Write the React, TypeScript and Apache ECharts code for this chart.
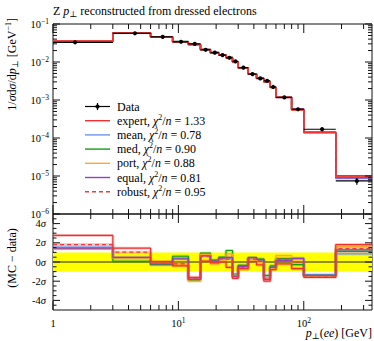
import React, { useEffect, useRef } from 'react';
import * as echarts from 'echarts';

// ---------- data ----------
const binEdges = [0, 3, 6, 9, 12, 15, 18, 21, 24, 27, 30, 36, 42, 48, 54, 60, 80, 100, 180, 350];
const dataValues = [0.033, 0.057, 0.046, 0.034, 0.030, 0.021, 0.0176, 0.0152, 0.0129, 0.0104, 0.0071, 0.0048, 0.0037, 0.0032, 0.0022, 0.00117, 0.00057, 0.00017, 0.0000074];
const dataRelErr = [0.03, 0.02, 0.02, 0.02, 0.02, 0.02, 0.02, 0.02, 0.02, 0.02, 0.02, 0.025, 0.025, 0.03, 0.03, 0.035, 0.05, 0.12, 0.2];

const seriesNames = ['expert', 'mean', 'med', 'port', 'equal', 'robust'];
const chi2Values = ['1.33', '0.78', '0.90', '0.88', '0.81', '0.95'];
const seriesColors = ['#f03030', '#6f94ee', '#12a012', '#ffa726', '#9a3cc0', '#f03a3a'];

const ratioExpert = [2.77, 1.44, 0.03, -0.4, -1.6, 0.1, -0.1, 0.0, -0.55, -1.7, -0.7, 0.05, -0.3, -2.0, -0.8, -0.2, -0.7, -1.6, 1.82];
const ratioMean = [1.55, 0.4, -0.3, 0.4, -1.85, 0.7, 0.05, 0.35, 0.4, -1.45, -0.45, 0.4, 0.2, -1.6, -0.5, 0.25, 0.42, -1.3, 0.84];
const ratioMed = [1.4, 0.07, -0.25, 0.6, -1.9, 0.92, 0.2, 0.5, 1.2, -1.25, -0.35, 0.45, 0.3, -1.4, -0.4, 0.35, -0.28, -1.4, 1.26];
const ratioPort = [1.37, 0.4, -0.15, -0.2, -2.0, 0.8, -0.2, 0.2, 0.84, -1.6, -0.8, 0.3, -0.05, -1.65, -0.7, 0.67, -0.66, -1.45, 1.61];
const ratioEqual = [1.44, 0.49, -0.2, 0.32, -1.8, 0.65, 0.1, 0.4, 0.49, -1.5, -0.45, 0.45, 0.25, -1.8, -0.55, 0.14, 0.35, -1.4, 1.1];
const ratioRobust = [1.82, 1.02, 0.0, -0.2, -1.75, 0.6, 0.0, 0.3, 0.3, -1.55, -0.6, 0.3, 0.1, -1.7, -0.6, 0.3, 0.0, -1.45, 1.4];
const ratios = [ratioExpert, ratioMean, ratioMed, ratioPort, ratioEqual, ratioRobust];

const X_MIN = 1;
const X_MAX = 350;
const Y_MIN = 1e-6;
const Y_MAX = 0.1;
const R_MIN = -5;
const R_MAX = 5;
const ratioMajorTicks = [-4, -2, 0, 2, 4];
const bandHalfWidth = 1;

const FONT = "'Liberation Serif', 'DejaVu Serif', serif";

// ---------- helpers ----------
function stepPoints(vals: number[]) {
  const pts = vals.map((v, i) => [Math.max(binEdges[i], X_MIN), v]);
  pts.push([binEdges[binEdges.length - 1], vals[vals.length - 1]]);
  return pts;
}

function logMinors(lo: number, hi: number) {
  const out: number[] = [];
  for (let d = Math.floor(Math.log10(lo)); d <= Math.ceil(Math.log10(hi)); d++) {
    for (let k = 2; k <= 9; k++) {
      const v = k * Math.pow(10, d);
      if (v > lo && v < hi) out.push(v);
    }
  }
  return out;
}
function logMajors(lo: number, hi: number) {
  const out: number[] = [];
  for (let d = Math.ceil(Math.log10(lo) - 1e-9); d <= Math.floor(Math.log10(hi) + 1e-9); d++) out.push(Math.pow(10, d));
  return out;
}

const xMaj = logMajors(X_MIN, X_MAX);
const xMin = logMinors(X_MIN, X_MAX);
const yMaj = logMajors(Y_MIN, Y_MAX);
const yMin = logMinors(Y_MIN, Y_MAX);
const rMin: number[] = [];
for (let v = R_MIN + 0.5; v < R_MAX; v += 0.5) if (ratioMajorTicks.indexOf(v) < 0) rMin.push(v);

function tickSeries(gi: number, xr: number[], yr: number[], xa: number[], xb: number[], ya: number[], yb: number[], xl: number[], yl: number[]) {
  return {
    type: 'custom',
    xAxisIndex: gi,
    yAxisIndex: gi,
    silent: true,
    z: 20,
    data: [[xr[0], yr[0]]],
    renderItem: (_p: any, api: any) => {
      const ch: any[] = [];
      const st = { stroke: '#111', lineWidth: 1 };
      const addX = (v: number, len: number) => {
        const b = api.coord([v, yr[0]]);
        const t = api.coord([v, yr[1]]);
        ch.push({ type: 'line', shape: { x1: b[0], y1: b[1], x2: b[0], y2: b[1] - len }, style: st });
        ch.push({ type: 'line', shape: { x1: t[0], y1: t[1], x2: t[0], y2: t[1] + len }, style: st });
      };
      const addY = (v: number, len: number) => {
        const l = api.coord([xr[0], v]);
        const r = api.coord([xr[1], v]);
        ch.push({ type: 'line', shape: { x1: l[0], y1: l[1], x2: l[0] + len, y2: l[1] }, style: st });
        ch.push({ type: 'line', shape: { x1: r[0], y1: r[1], x2: r[0] - len, y2: r[1] }, style: st });
      };
      xa.forEach((v) => addX(v, xl[0]));
      xb.forEach((v) => addX(v, xl[1]));
      ya.forEach((v) => addY(v, yl[0]));
      yb.forEach((v) => addY(v, yl[1]));
      return { type: 'group', children: ch };
    },
  };
}

const richBase = {
  b: { fontSize: 10.5, fontFamily: FONT, color: '#000', lineHeight: 14 },
  sup: { fontSize: 7.5, fontFamily: FONT, color: '#000', lineHeight: 6, verticalAlign: 'top' },
  sub: { fontSize: 8, fontFamily: FONT, color: '#000', lineHeight: 6, verticalAlign: 'bottom' },
  i: { fontSize: 10.5, fontFamily: FONT, color: '#000', fontStyle: 'italic', lineHeight: 14 },
};

function decadeLabel(v: number) {
  const e = Math.log10(v);
  const r = Math.round(e);
  if (Math.abs(e - r) > 1e-6) return '';
  if (r === 0) return '{b|1}';
  return `{b|10}{sup|${r < 0 ? '\u2212' : ''}${Math.abs(r)}}`;
}

function buildOption() {
  const mcSeries: any[] = [];
  const order = [1, 2, 3, 4, 0, 5];
  order.forEach((si) => {
    const mc = dataValues.map((d, i) => d * (1 + ratios[si][i] * dataRelErr[i]));
    mcSeries.push({
      type: 'line',
      name: seriesNames[si],
      xAxisIndex: 0,
      yAxisIndex: 0,
      step: 'end',
      symbol: 'none',
      silent: true,
      data: stepPoints(mc),
      lineStyle: { color: seriesColors[si], width: 1.6, type: si === 5 ? [4, 3] : 'solid' },
      z: 3,
    });
  });

  const ratioSeries: any[] = [];
  order.forEach((si) => {
    ratioSeries.push({
      type: 'line',
      xAxisIndex: 1,
      yAxisIndex: 1,
      step: 'end',
      symbol: 'none',
      silent: true,
      data: stepPoints(ratios[si]),
      lineStyle: { color: seriesColors[si], width: 3, opacity: 0.28 },
      z: 3,
    });
  });
  order.forEach((si) => {
    ratioSeries.push({
      type: 'line',
      xAxisIndex: 1,
      yAxisIndex: 1,
      step: 'end',
      symbol: 'none',
      silent: true,
      data: stepPoints(ratios[si]),
      lineStyle: { color: seriesColors[si], width: 1.2, type: si === 5 ? [4, 3] : 'solid' },
      z: 4,
    });
  });

  const dataSeries = {
    type: 'custom',
    xAxisIndex: 0,
    yAxisIndex: 0,
    silent: true,
    z: 6,
    data: dataValues.map((v, i) => [(binEdges[i] + binEdges[i + 1]) / 2, v]),
    renderItem: (params: any, api: any) => {
      const i = params.dataIndex;
      const lo = Math.max(binEdges[i], X_MIN);
      const hi = binEdges[i + 1];
      const xc = (binEdges[i] + binEdges[i + 1]) / 2;
      const v = dataValues[i];
      const e = v * dataRelErr[i];
      const a = api.coord([lo, v]);
      const b = api.coord([hi, v]);
      const c = api.coord([xc, v]);
      const t = api.coord([xc, v + e]);
      const d = api.coord([xc, v - e]);
      const st = { stroke: '#000', lineWidth: 1.2 };
      return {
        type: 'group',
        children: [
          { type: 'line', shape: { x1: a[0], y1: a[1], x2: b[0], y2: b[1] }, style: st },
          { type: 'line', shape: { x1: t[0], y1: t[1], x2: d[0], y2: d[1] }, style: st },
          { type: 'circle', shape: { cx: c[0], cy: c[1], r: 2.1 }, style: { fill: '#000' } },
        ],
      };
    },
  };

  const bandSeries = {
    type: 'line',
    xAxisIndex: 1,
    yAxisIndex: 1,
    symbol: 'none',
    silent: true,
    data: [[X_MIN, 0], [X_MAX, 0]],
    lineStyle: { color: '#222', width: 1 },
    z: 2,
    markArea: {
      silent: true,
      itemStyle: { color: '#ffff00', opacity: 1 },
      data: [[{ yAxis: -bandHalfWidth }, { yAxis: bandHalfWidth }]],
    },
  };

  // legend (graphic)
  const lgX0 = 85;
  const lgX1 = 110;
  const lgTx = 117;
  const lgY0 = 106.5;
  const lgDy = 14.2;
  const FS = 12;
  const graphic: any[] = [];
  graphic.push({ type: 'line', shape: { x1: lgX0, y1: lgY0, x2: lgX1, y2: lgY0 }, style: { stroke: '#000', lineWidth: 1.2 }, z: 50 });
  graphic.push({ type: 'line', shape: { x1: (lgX0 + lgX1) / 2, y1: lgY0 - 3.5, x2: (lgX0 + lgX1) / 2, y2: lgY0 + 3.5 }, style: { stroke: '#000', lineWidth: 1.2 }, z: 50 });
  graphic.push({ type: 'circle', shape: { cx: (lgX0 + lgX1) / 2, cy: lgY0, r: 2.1 }, style: { fill: '#000' }, z: 50 });
  graphic.push({
    type: 'text', x: lgTx, y: lgY0, z: 50,
    style: { text: 'Data', fontFamily: FONT, fontSize: FS, fill: '#000', verticalAlign: 'middle', align: 'left' },
  });
  const richLg = {
    t: { fontSize: FS, fontFamily: FONT, color: '#000', lineHeight: 15 },
    i: { fontSize: FS, fontFamily: FONT, color: '#000', fontStyle: 'italic', lineHeight: 15 },
    s: { fontSize: 8, fontFamily: FONT, color: '#000', lineHeight: 7, verticalAlign: 'top' },
  };
  seriesNames.forEach((nm, k) => {
    const y = lgY0 + lgDy * (k + 1);
    graphic.push({
      type: 'line', shape: { x1: lgX0, y1: y, x2: lgX1, y2: y }, z: 50,
      style: { stroke: seriesColors[k], lineWidth: 1.4, lineDash: k === 5 ? [4, 3] : null },
    });
    graphic.push({
      type: 'text', x: lgTx, y, z: 50,
      style: {
        text: `{t|${nm}, }{i|\u03c7}{s|2}{t|/}{i|n}{t| = ${chi2Values[k]}}`,
        rich: richLg, verticalAlign: 'middle', align: 'left', fontFamily: FONT, fontSize: FS,
      },
    });
  });

  const richTitle = {
    t: { fontSize: FS, fontFamily: FONT, color: '#000', lineHeight: 15 },
    i: { fontSize: FS, fontFamily: FONT, color: '#000', fontStyle: 'italic', lineHeight: 15 },
    sub: { fontSize: 8.5, fontFamily: FONT, color: '#000', lineHeight: 7, verticalAlign: 'bottom' },
    sup: { fontSize: 8, fontFamily: FONT, color: '#000', lineHeight: 7, verticalAlign: 'top' },
  };
  graphic.push({
    type: 'text', x: 53, y: 11,
    style: { text: '{t|Z }{i|p}{sub|\u22a5}{t| reconstructed from dressed electrons}', rich: richTitle, verticalAlign: 'middle', align: 'left', fontFamily: FONT, fontSize: FS },
  });
  graphic.push({
    type: 'text', x: 12, y: 18, rotation: Math.PI / 2,
    style: { text: '{t|1/}{i|\u03c3}{t|d}{i|\u03c3}{t|/d}{i|p}{sub|\u22a5}{t| [GeV}{sup|\u22121}{t|]}', rich: richTitle, verticalAlign: 'middle', align: 'right', fontFamily: FONT, fontSize: FS },
  });
  graphic.push({
    type: 'text', x: 12, y: 258, rotation: Math.PI / 2,
    style: { text: '{t|(MC \u2212 data)}', rich: richTitle, verticalAlign: 'middle', align: 'center', fontFamily: FONT, fontSize: FS },
  });
  graphic.push({
    type: 'text', x: 372, y: 333,
    style: { text: '{i|p}{sub|\u22a5}{t|(}{i|ee}{t|) [GeV]}', rich: richTitle, verticalAlign: 'middle', align: 'right', fontFamily: FONT, fontSize: FS },
  });

  const noAx = { axisLine: { show: false }, axisTick: { show: false }, splitLine: { show: false } };

  return {
    animation: false,
    backgroundColor: '#fff',
    grid: [
      { left: 53, top: 24, width: 319, height: 190, show: true, borderColor: '#111', borderWidth: 1, backgroundColor: 'rgba(0,0,0,0)' },
      { left: 53, top: 214, width: 319, height: 96, show: true, borderColor: '#111', borderWidth: 1, backgroundColor: 'rgba(0,0,0,0)' },
    ],
    xAxis: [
      { type: 'log', logBase: 10, min: X_MIN, max: X_MAX, gridIndex: 0, ...noAx, axisLabel: { show: false } },
      {
        type: 'log', logBase: 10, min: X_MIN, max: X_MAX, gridIndex: 1, ...noAx,
        axisLabel: { formatter: decadeLabel, margin: 6, rich: richBase, fontFamily: FONT, fontSize: 10.5, color: '#000', showMaxLabel: false },
      },
    ],
    yAxis: [
      {
        type: 'log', logBase: 10, min: Y_MIN, max: Y_MAX, gridIndex: 0, ...noAx,
        axisLabel: { formatter: decadeLabel, margin: 4, rich: richBase, fontFamily: FONT, fontSize: 10.5, color: '#000' },
      },
      {
        type: 'value', min: R_MIN, max: R_MAX, interval: 1, gridIndex: 1, ...noAx,
        axisLabel: {
          formatter: (v: number) => (ratioMajorTicks.indexOf(Math.round(v)) >= 0 && Math.abs(v - Math.round(v)) < 1e-6 ? `{b|${v}}{i|\u03c3}` : ''),
          margin: 7, rich: richBase, fontFamily: FONT, fontSize: 10.5, color: '#000',
        },
      },
    ],
    graphic,
    series: [
      ...mcSeries,
      dataSeries,
      bandSeries,
      ...ratioSeries,
      tickSeries(0, [X_MIN, X_MAX], [Y_MIN, Y_MAX], xMaj, xMin, yMaj, yMin, [9, 5], [7, 4]),
      tickSeries(1, [X_MIN, X_MAX], [R_MIN, R_MAX], xMaj, xMin, ratioMajorTicks, rMin, [9, 5], [7, 3.5]),
    ],
  };
}

export default function App() {
  const ref = useRef<HTMLDivElement>(null);
  useEffect(() => {
    document.body.style.margin = '0';
    if (!ref.current) return;
    const chart = echarts.init(ref.current, undefined, { renderer: 'svg' });
    chart.setOption(buildOption() as any);
    return () => chart.dispose();
  }, []);
  return <div ref={ref} style={{ width: 374, height: 341 }} />;
}
